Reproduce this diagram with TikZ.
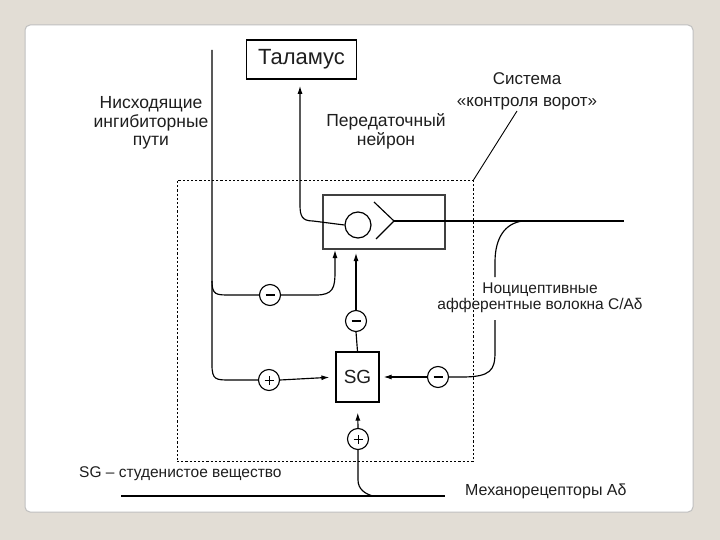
\documentclass[tikz,border=0pt]{standalone}
\usepackage{fontspec}
\setmainfont{Liberation Sans}
\usetikzlibrary{arrows.meta,calc}
\definecolor{bgout}{RGB}{226,221,213}
\definecolor{txt}{RGB}{30,30,30}
\begin{document}
\begin{tikzpicture}[x=1bp,y=-1bp,
  every node/.style={text=txt},
  ln/.style={draw=black,line width=1.15bp},
  arr/.style={ln,-{Latex[length=8bp,width=5bp]}},
  sign/.style={circle,draw=black,line width=1.1bp,minimum size=21bp,inner sep=0pt,fill=white},
  minus/.style={sign,path picture={\draw[line width=1.4bp] ([xshift=-4.5bp]path picture bounding box.center) -- ([xshift=4.5bp]path picture bounding box.center);}},
  plus/.style={sign,path picture={\draw[line width=0.9bp] ([xshift=-4.5bp]path picture bounding box.center) -- ([xshift=4.5bp]path picture bounding box.center) ([yshift=-4.5bp]path picture bounding box.center) -- ([yshift=4.5bp]path picture bounding box.center);}},
  lbl/.style={align=center,inner sep=0pt},
]
% background and panel
\fill[bgout] (0,0) rectangle (720,540);
\useasboundingbox (0,0) rectangle (720,540);
\draw[draw=black!25,fill=white,rounded corners=5bp,line width=1bp] (25,25) rectangle (693,512);

% gate control dashed box
\node[draw=black,dash pattern=on 2.2bp off 2bp,line width=0.9bp,minimum width=296bp,minimum height=281bp,inner sep=0pt] (gate) at (325,321) {};

% Thalamus
\node[draw=black,line width=1.7bp,minimum width=110bp,minimum height=39bp,inner sep=0pt,font=\fontsize{22bp}{24bp}\selectfont] (thal) at (301.5,59.5) {Таламус};

% relay neuron box
\node[draw=black!75,line width=2bp,minimum width=122bp,minimum height=54bp,inner sep=0pt] (neur) at (384,222) {};
\node[circle,draw=black,line width=1.2bp,minimum width=26bp,inner sep=0pt] (soma) at (358,225) {};
\coordinate (chevA) at (374,202);
\coordinate (chevTip) at (394,221);
\coordinate (chevB) at (376,239);
\draw[ln] (chevA) -- (chevTip) -- (chevB);
\coordinate (outR) at (624,221);
\draw[ln] (chevTip) -- (outR);

% SG
\node[draw=black,line width=1.2bp,minimum width=43bp,minimum height=50bp,inner sep=0pt,font=\fontsize{19bp}{21bp}\selectfont] (sg) at (357.5,377) {SG};

% sign circles
\node[minus] (mL) at (270,295) {};
\node[minus] (mS) at (356,321) {};
\node[plus]  (pL) at (269,380) {};
\node[minus] (mR) at (438,377) {};
\node[plus]  (pB) at (358,439) {};

% descending inhibitory pathways
\coordinate (dTop) at (212,50);
\coordinate (dBr) at (212,281);
\draw[ln] (dTop) -- (212,365) .. controls (212,380) and (216,380) .. (230,380) -- (pL.west);
\draw[ln] (dBr) .. controls (212,295) and (216,295) .. (230,295) -- (mL.west);
\draw[arr] (mL.east) -- (316,295) .. controls (333,295) and (335,288) .. (335,272) -- (neur.south -| 335,0);

% SG -> relay neuron
\draw[ln] (sg.north) -- (mS.south);
\draw[arr,shorten >=3bp] (mS.north) -- (neur.south -| mS);

% into SG
\draw[arr,shorten >=6bp] (pL.east) -- (sg.west);
\draw[arr,shorten >=4bp] (mR.west) -- (sg.east);
\draw[arr,shorten >=10bp] (pB.north) -- (sg.south);

% relay neuron -> thalamus
\draw[arr,shorten >=6bp] (soma.west) -- (313,221) .. controls (302,221) and (300,216) .. (300,205) -- (thal.south -| 300,0);

% nociceptive afferents
\coordinate (nLow) at (495,320);
\coordinate (nUp) at (495,277);
\coordinate (nJoin) at (523,221);
\draw[ln] (mR.east) -- (462,377) .. controls (491,377) and (495,370) .. (495,352) -- (nLow);
\draw[ln] (nUp) -- (495,262) .. controls (495,238) and (505,223) .. (nJoin);

% mechanoreceptors
\coordinate (bL) at (121,496);
\coordinate (bR) at (445,496);
\coordinate (mJoin) at (373,496);
\draw[ln] (bL) -- (bR);
\draw[ln] (pB.south) -- (358,480) .. controls (358,489) and (365,494) .. (mJoin);

% leader for gate-control label
\coordinate (lead) at (517,111);
\draw[ln,line width=0.9bp] (gate.north east) -- (lead);

% labels
\node[lbl,font=\fontsize{17.5bp}{18.5bp}\selectfont] (desc) at (151,123) {Нисходящие\\ингибиторные\\пути};
\node[lbl,font=\fontsize{17bp}{22bp}\selectfont] (sys) at (527,91) {Система\\«контроля ворот»};
\node[lbl,font=\fontsize{17.5bp}{19bp}\selectfont] (relay) at (386,131) {Передаточный\\нейрон};
\node[lbl,font=\fontsize{15.5bp}{16bp}\selectfont] (noci) at (540,298) {Ноцицептивные\\афферентные волокна С/Аδ};
\node[lbl,anchor=west,font=\fontsize{15.5bp}{17bp}\selectfont] (legend) at (79,474) {SG – студенистое вещество};
\node[lbl,anchor=west,font=\fontsize{16bp}{18bp}\selectfont] (mech) at (465,491) {Механорецепторы Аδ};
\end{tikzpicture}
\end{document}
